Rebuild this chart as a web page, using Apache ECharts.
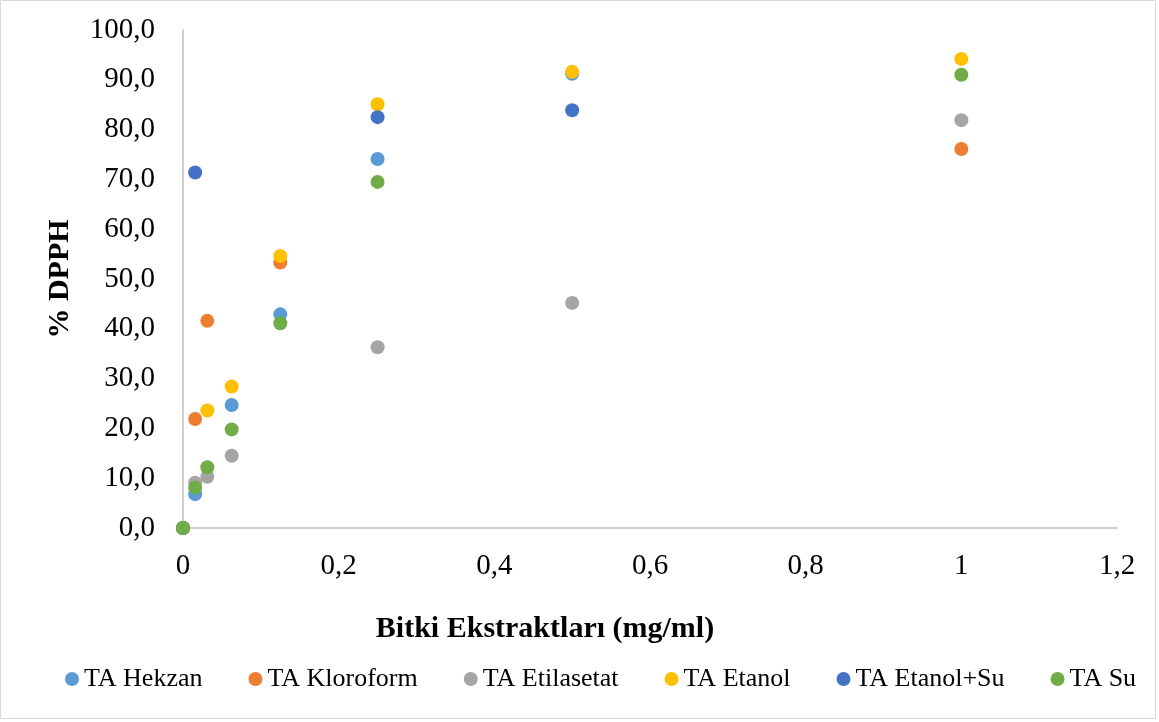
<!DOCTYPE html>
<html>
<head>
<meta charset="utf-8">
<script src="https://cdn.jsdelivr.net/npm/echarts@6/dist/echarts.min.js"></script>
<style>
html,body{margin:0;padding:0;background:#fff;}
#chart{width:1159px;height:722px;}
</style>
</head>
<body>
<div id="chart"></div>
<script>
var xValues = [0, 0.015625, 0.03125, 0.0625, 0.125, 0.25, 0.5, 1];
var hekzan = [0, 6.8, null, 24.7, 42.9, 74.1, 91.2, null];
var kloroform = [0, 21.9, 41.6, null, 53.3, null, null, 76.1];
var etilasetat = [0, 9.1, 10.3, 14.5, null, 36.3, 45.2, 81.9];
var etanol = [0, null, 23.6, 28.4, 54.6, 85.1, 91.6, 94.2];
var etanolSu = [0, 71.4, null, null, null, 82.5, 83.9, null];
var su = [0, 8.1, 12.2, 19.8, 41.1, 69.5, null, 91.0];
var seriesNames = ['TA Hekzan', 'TA Kloroform', 'TA Etilasetat', 'TA Etanol', 'TA Etanol+Su', 'TA Su'];
var seriesValues = [hekzan, kloroform, etilasetat, etanol, etanolSu, su];
var colors = ['#5B9BD5', '#ED7D31', '#A5A5A5', '#FFC000', '#4472C4', '#70AD47'];

var font = '"Liberation Serif", "Times New Roman", serif';

function pairs(vals) {
  var out = [];
  for (var i = 0; i < xValues.length; i++) {
    if (vals[i] !== null) out.push([xValues[i], vals[i]]);
  }
  return out;
}

var chart = echarts.init(document.getElementById('chart'), null, {renderer: 'canvas'});
var option = {
  animation: false,
  color: colors,
  graphic: [{
    type: 'rect',
    shape: {x: 0.5, y: 0.5, width: 1155, height: 718},
    style: {fill: 'none', stroke: '#D9D9D9', lineWidth: 1},
    silent: true, z: -1
  }],
  grid: {left: 183, top: 30, right: 42, bottom: 194, containLabel: false},
  legend: {
    left: 60, top: 661,
    icon: 'circle', itemWidth: 14, itemHeight: 14, itemGap: 46,
    textStyle: {fontFamily: font, fontSize: 26, color: '#000'},
    data: seriesNames
  },
  xAxis: {
    type: 'value', min: 0, max: 1.2, interval: 0.2,
    name: 'Bitki Ekstraktları (mg/ml)', nameLocation: 'middle', nameGap: 86,
    nameTextStyle: {fontFamily: font, fontSize: 30, fontWeight: 'bold', color: '#000', padding: [0, 210, 0, 0]},
    axisLine: {show: true, onZero: false, lineStyle: {color: '#BFBFBF', width: 1.5}},
    axisTick: {show: false},
    splitLine: {show: false},
    axisLabel: {
      fontFamily: font, fontSize: 29, color: '#000', margin: 24,
      formatter: function (v) { return String(+v.toFixed(1)).replace('.', ','); }
    }
  },
  yAxis: {
    type: 'value', min: 0, max: 100, interval: 10,
    name: '% DPPH', nameLocation: 'middle', nameGap: 108, nameRotate: 90,
    nameTextStyle: {fontFamily: font, fontSize: 30, fontWeight: 'bold', color: '#000'},
    axisLine: {show: true, lineStyle: {color: '#BFBFBF', width: 1.5}},
    axisTick: {show: false},
    splitLine: {show: false},
    axisLabel: {
      fontFamily: font, fontSize: 29, color: '#000', margin: 28,
      formatter: function (v) { return v.toFixed(1).replace('.', ','); }
    }
  },
  series: seriesNames.map(function (n, i) {
    return {
      name: n, type: 'scatter', symbol: 'circle', symbolSize: 14,
      itemStyle: {color: colors[i], opacity: 1},
      data: pairs(seriesValues[i])
    };
  })
};
chart.setOption(option);
</script>
</body>
</html>
